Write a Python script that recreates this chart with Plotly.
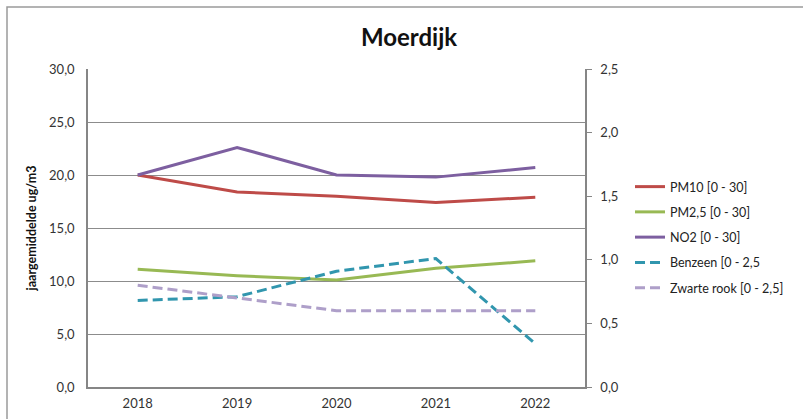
import plotly.graph_objects as go

years = ["2018", "2019", "2020", "2021", "2022"]
pm10 = [20.0, 18.4, 18.0, 17.4, 17.9]
pm25 = [11.1, 10.5, 10.1, 11.2, 11.9]
no2 = [20.0, 22.6, 20.0, 19.8, 20.7]
benzeen = [0.68, 0.71, 0.91, 1.01, 0.34]
zwarte_rook = [0.8, 0.7, 0.6, 0.6, 0.6]

left_ticks = [0, 5, 10, 15, 20, 25, 30]
right_ticks = [0, 0.5, 1.0, 1.5, 2.0, 2.5]

FONT = "Lato, Open Sans, sans-serif"
fig = go.Figure()

def add(name, y, color, dash, axis):
    fig.add_trace(go.Scatter(
        x=years, y=y, name=name, mode="lines", yaxis=axis,
        line=dict(color=color, width=3, dash=dash),
        legendgroup=name,
    ))

add("PM10 [0 - 30]", pm10, "#BE4B48", "solid", "y")
add("PM2,5 [0 - 30]", pm25, "#98B954", "solid", "y")
add("NO2 [0 - 30]", no2, "#7D5FA0", "solid", "y")
add("Benzeen [0 - 2,5", benzeen, "#3196AE", "10px,5px", "y2")
add("Zwarte rook [0 - 2,5]", zwarte_rook, "#AE9FC9", "10px,5px", "y2")

fig.update_layout(
    width=803, height=419,
    margin=dict(l=88, r=218, t=69, b=32),
    paper_bgcolor="white", plot_bgcolor="white",
    separators=",.",
    font=dict(family=FONT, size=13, color="#333333"),
    title=dict(text="<b>Moerdijk</b>", x=(409) / 803, xanchor="center",
               y=1 - 38 / 419, yanchor="middle",
               font=dict(family=FONT, size=24, color="#111111")),
    xaxis=dict(type="category", range=[-0.5, 4.5], showgrid=False, automargin=False,
               showline=True, linecolor="#868686", linewidth=1.5,
               ticks="", ticklabelstandoff=4, tickfont=dict(size=13, color="#333333")),
    yaxis=dict(range=[0, 30], tickvals=left_ticks, tickformat=".1f", automargin=False,
               showgrid=True, gridcolor="#8C8C8C", gridwidth=1,
               showline=True, linecolor="#868686", linewidth=1.5,
               ticks="", ticklabelstandoff=9,
               zeroline=False,
               title=dict(text="<b>jaargemiddelde ug/m3</b>", standoff=10,
                          font=dict(size=12.5, color="#111111"))),
    yaxis2=dict(range=[0, 2.5], tickvals=right_ticks, tickformat=".1f", automargin=False,
                overlaying="y", side="right", showgrid=False,
                showline=True, linecolor="#868686", linewidth=1.5,
                ticks="outside", ticklen=5, tickcolor="#868686",
                ticklabelstandoff=6,
                zeroline=False),
    legend=dict(x=(630 - 88) / 497, y=(387 - 172) / 318, xanchor="left", yanchor="top",
                traceorder="grouped", tracegroupgap=6,
                font=dict(size=12.5, color="#222222"), bgcolor="rgba(0,0,0,0)"),
    shapes=[dict(type="rect", xref="paper", yref="paper",
                 x0=(7 - 88) / 497, x1=(830 - 88) / 497,
                 y0=(387 - 440) / 318, y1=(387 - 7) / 318,
                 line=dict(color="#9A9A9A", width=1.5), layer="below")],
)

fig.write_html("out.html")
